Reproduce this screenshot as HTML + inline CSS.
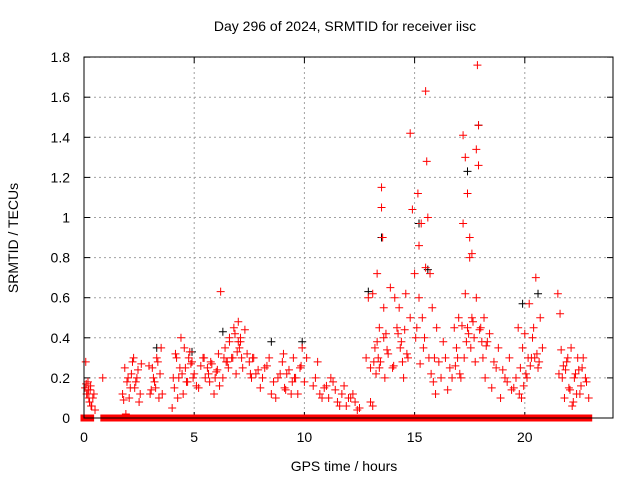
<!DOCTYPE html>
<html><head><meta charset="utf-8">
<style>
html,body{margin:0;padding:0;background:#fff;}
svg{display:block;font-family:"Liberation Sans",sans-serif;}
</style></head>
<body>
<svg id="chart" width="640" height="480" xmlns="http://www.w3.org/2000/svg">
<text x="345" y="31" font-size="14" text-anchor="middle">Day 296 of 2024, SRMTID for receiver iisc</text>
<text x="344" y="471" font-size="14" text-anchor="middle">GPS time / hours</text>
<text x="18" y="238" font-size="14" text-anchor="middle" transform="rotate(-90 18 238)">SRMTID / TECUs</text>
<g id="grid"></g>
<g id="ticks"></g>
<g id="zeros"></g>
<g id="blk"></g>
<g id="red"></g>
<rect x="84" y="57" width="529" height="361" fill="none" stroke="#000" stroke-width="1"/>
</svg>
<script>
const xTicks=[0,5,10,15,20];
const yTicks=[0,0.2,0.4,0.6,0.8,1,1.2,1.4,1.6,1.8];
const yTickLabels=["0","0.2","0.4","0.6","0.8","1","1.2","1.4","1.6","1.8"];
const zeroRanges=[[0,0.3],[0.9,22.9]];
const redHours=[0.05,0.1,0.15,0.2,0.25,0.3,0.35,0.4,0.5,0.85,1.75,1.85,1.95,2.05,2.15,2.25,2.3,2.4,2.5,2.6,3.0,3.1,3.2,3.3,3.4,3.45,3.5,4.0,4.1,4.2,4.3,4.4,4.5,4.6,4.7,4.8,4.9,5.0,5.2,5.4,5.5,5.6,5.7,5.8,5.9,6.0,6.1,6.2,6.3,6.4,6.5,6.6,6.7,6.8,6.9,7.0,7.05,7.1,7.2,7.5,7.6,7.7,7.8,8.0,8.2,8.4,8.6,8.7,8.8,9.0,9.1,9.2,9.4,9.5,9.6,9.8,9.9,10.0,10.5,10.7,10.9,11.1,11.3,11.5,11.7,11.9,12.1,12.3,12.5,12.8,12.9,13.0,13.1,13.2,13.3,13.4,13.45,13.5,13.5,13.55,13.6,13.7,13.8,13.9,14.0,14.1,14.2,14.3,14.4,14.5,14.6,14.7,14.8,14.8,14.9,15.0,15.1,15.15,15.2,15.2,15.3,15.4,15.5,15.5,15.55,15.6,15.7,15.8,15.9,16.0,16.2,16.4,16.6,16.8,16.9,17.0,17.1,17.2,17.2,17.3,17.3,17.4,17.4,17.5,17.5,17.6,17.6,17.7,17.8,17.8,17.85,17.9,17.9,18.0,18.1,18.2,18.3,18.5,18.7,18.9,19.1,19.3,19.5,19.7,19.8,19.9,20.0,20.1,20.2,20.3,20.4,20.5,20.6,20.7,20.8,21.5,21.6,21.7,21.8,21.9,22.0,22.1,22.2,22.3,22.4,22.5,22.6,22.8,22.9,
0.08,0.12,0.18,0.22,0.28,0.32,0.45,1.8,1.9,2.0,2.1,2.2,2.35,2.45,2.55,2.95,3.05,3.15,3.25,3.35,3.55,4.05,4.15,4.25,4.35,4.45,4.55,4.65,4.75,4.85,4.95,5.1,5.3,5.45,5.65,5.75,5.95,6.05,6.15,6.35,6.45,6.55,6.6,6.75,6.85,6.95,7.0,7.1,7.15,7.3,7.4,7.55,7.65,7.9,8.1,8.3,8.5,8.9,9.05,9.15,9.3,9.45,9.55,9.7,9.85,10.1,10.4,10.6,10.8,11.0,11.2,11.4,11.6,11.8,12.0,12.2,12.4,13.0,13.1,13.15,13.25,13.3,13.35,13.4,13.6,13.65,13.75,14.05,14.25,14.35,14.45,14.55,14.65,15.05,15.25,15.35,15.45,15.65,15.75,15.85,15.95,16.1,16.3,16.5,16.7,16.85,16.95,17.05,17.15,17.25,17.35,17.45,17.55,17.65,17.75,17.95,18.05,18.15,18.25,18.4,18.6,18.8,19.0,19.2,19.4,19.6,19.75,19.85,19.95,20.05,20.15,20.25,20.35,20.45,20.55,20.65,21.55,21.65,21.75,21.85,21.95,22.05,22.15,22.25,22.35,22.45,22.55,22.65,22.75];
const redValues=[0.15,0.17,0.12,0.14,0.08,0.16,0.06,0.1,0.04,0.2,0.12,0.25,0.18,0.1,0.22,0.3,0.15,0.2,0.08,0.27,0.12,0.25,0.18,0.3,0.1,0.22,0.35,0.05,0.15,0.3,0.2,0.4,0.12,0.25,0.18,0.33,0.28,0.22,0.15,0.3,0.2,0.25,0.18,0.27,0.12,0.23,0.32,0.63,0.2,0.35,0.28,0.4,0.3,0.45,0.22,0.48,0.35,0.38,0.25,0.28,0.2,0.3,0.22,0.15,0.25,0.3,0.18,0.1,0.2,0.28,0.15,0.22,0.12,0.3,0.2,0.25,0.35,0.18,0.2,0.12,0.15,0.1,0.18,0.08,0.12,0.06,0.1,0.08,0.05,0.3,0.6,0.25,0.62,0.35,0.72,0.45,0.28,1.15,1.05,0.9,0.55,0.42,0.32,0.65,0.25,0.6,0.45,0.55,0.38,0.2,0.62,0.3,0.5,1.42,1.04,0.72,0.45,1.12,0.6,0.86,0.97,0.35,0.75,1.63,1.28,1.0,0.72,0.55,0.3,0.45,0.2,0.3,0.25,0.45,0.35,0.5,0.2,0.97,1.41,0.62,1.3,0.45,1.12,0.8,0.9,0.5,0.82,0.4,1.34,0.6,1.76,1.26,1.46,0.45,0.3,0.2,0.38,0.15,0.25,0.1,0.2,0.3,0.15,0.45,0.25,0.35,0.42,0.2,0.57,0.3,0.45,0.7,0.25,0.5,0.35,0.62,0.52,0.2,0.1,0.28,0.15,0.35,0.08,0.22,0.3,0.12,0.25,0.18,0.1,0.28,0.12,
0.18,0.1,0.14,0.06,0.12,0.09,0.02,0.2,0.15,0.28,0.18,0.24,0.12,0.26,0.14,0.2,0.15,0.28,0.12,0.2,0.32,0.1,0.25,0.22,0.35,0.18,0.3,0.27,0.2,0.16,0.26,0.3,0.22,0.28,0.2,0.24,0.16,0.3,0.28,0.25,0.38,0.3,0.42,0.33,0.38,0.4,0.3,0.44,0.32,0.22,0.3,0.24,0.2,0.26,0.12,0.22,0.32,0.14,0.24,0.18,0.2,0.12,0.26,0.3,0.16,0.28,0.1,0.16,0.2,0.14,0.06,0.16,0.1,0.12,0.04,0.08,0.06,0.28,0.22,0.38,0.3,0.25,0.4,0.2,0.34,0.26,0.42,0.35,0.28,0.44,0.32,0.4,0.27,0.5,0.4,0.3,0.22,0.18,0.12,0.28,0.38,0.14,0.2,0.26,0.3,0.22,0.46,0.3,0.38,0.42,0.35,0.48,0.28,0.44,0.38,0.5,0.36,0.42,0.28,0.35,0.24,0.18,0.14,0.2,0.12,0.1,0.16,0.22,0.3,0.26,0.4,0.3,0.32,0.28,0.22,0.34,0.26,0.24,0.3,0.14,0.06,0.2,0.12,0.24,0.16,0.3,0.2,0.1,0.26,0.18,0.22,0.08];
const blkHours=[6.3,8.5,9.9,12.9,13.5,15.2,15.6,17.4,17.9,19.9,20.6,3.3,4.9];
const blkValues=[0.43,0.38,0.38,0.63,0.9,0.97,0.74,1.23,1.46,0.57,0.62,0.35,0.33];

const NS="http://www.w3.org/2000/svg";
const X=h=>84+h*22.04, Y=v=>418-v*200.5;
function mk(t,a,p){const e=document.createElementNS(NS,t);for(const k in a)e.setAttribute(k,a[k]);p.appendChild(e);return e;}
const grid=document.getElementById('grid'),ticks=document.getElementById('ticks');
xTicks.forEach(t=>{const x=X(t);
 if(t>0){const l=mk('line',{x1:x,y1:57,x2:x,y2:418,stroke:'#a0a0a0','stroke-dasharray':'2,3'},grid);}
 mk('line',{x1:x,y1:418,x2:x,y2:412,stroke:'#000'},ticks);mk('line',{x1:x,y1:57,x2:x,y2:63,stroke:'#000'},ticks);
 const tx=mk('text',{x:x,y:442,'font-size':14,'text-anchor':'middle'},ticks);tx.textContent=t;
 });
yTicks.forEach((t,i)=>{const y=Y(t);
 if(t>0){const l=mk('line',{x1:84,y1:y,x2:613,y2:y,stroke:'#a0a0a0','stroke-dasharray':'2,3'},grid);}
 mk('line',{x1:84,y1:y,x2:90,y2:y,stroke:'#000'},ticks);mk('line',{x1:613,y1:y,x2:607,y2:y,stroke:'#000'},ticks);
 const tx=mk('text',{x:70,y:y+5,'font-size':14,'text-anchor':'end'},ticks);tx.textContent=yTickLabels[i];
 });
const zg=document.getElementById('zeros');
zeroRanges.forEach(r=>{const e=mk('rect',{x:X(r[0])-3.5,y:Y(0)-3.5,width:X(r[1])-X(r[0])+7,height:7,fill:'#ff0000'},zg);
 });
function plus(g,h,v,c){const x=X(h),y=Y(v);
 const p=mk('path',{d:`M${x-4},${y}H${x+4}M${x},${y-4}V${y+4}`,stroke:c,'stroke-width':1,fill:'none'},g);
 }
const bg=document.getElementById('blk');blkHours.forEach((h,i)=>plus(bg,h,blkValues[i],'#000'));
const rg=document.getElementById('red');redHours.forEach((h,i)=>plus(rg,h,redValues[i],'#ff0000'));
</script>
</body></html>
